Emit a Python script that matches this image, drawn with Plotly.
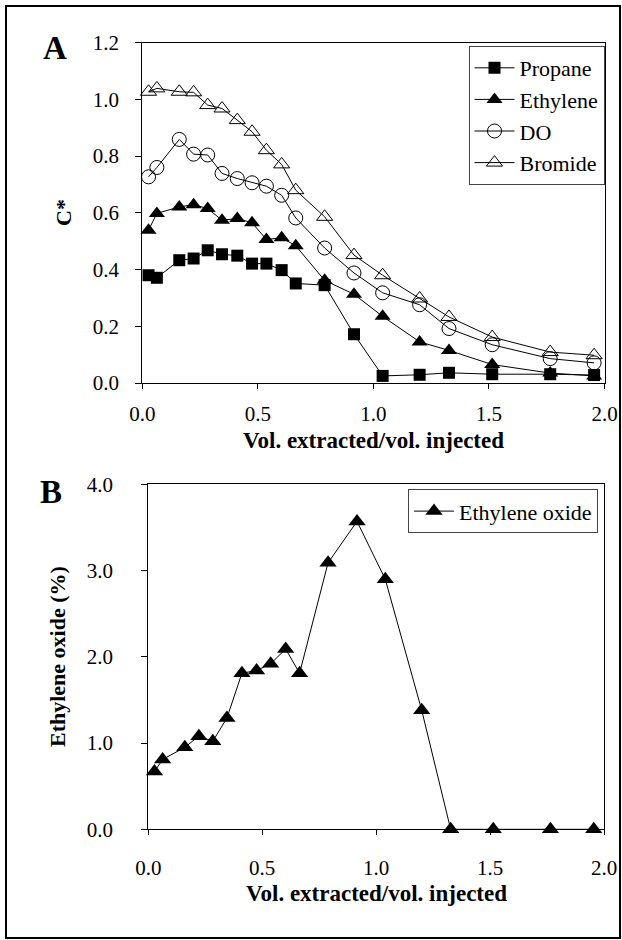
import plotly.graph_objects as go

# ---------------- data ----------------
vol_ratio = [0.027, 0.063, 0.160, 0.222, 0.283, 0.345, 0.411, 0.475, 0.537, 0.603,
             0.664, 0.789, 0.916, 1.040, 1.200, 1.327, 1.514, 1.765, 1.955]
propane = [0.380, 0.371, 0.433, 0.439, 0.468, 0.454, 0.449, 0.421, 0.421, 0.398,
           0.351, 0.345, 0.172, 0.025, 0.029, 0.036, 0.031, 0.031, 0.028]
ethylene = [0.539, 0.598, 0.621, 0.629, 0.615, 0.574, 0.580, 0.565, 0.506, 0.512,
            0.484, 0.362, 0.313, 0.235, 0.145, 0.115, 0.065, 0.035, 0.025]
dissolved_oxygen = [0.727, 0.760, 0.859, 0.807, 0.804, 0.739, 0.721, 0.706, 0.694, 0.662,
                    0.582, 0.476, 0.388, 0.318, 0.276, 0.192, 0.135, 0.086, 0.071]
bromide = [1.027, 1.039, 1.027, 1.025, 0.980, 0.968, 0.927, 0.886, 0.821, 0.771,
           0.680, 0.586, 0.451, 0.380, 0.298, 0.233, 0.162, 0.109, 0.098]
ethylene_oxide = [0.67, 0.81, 0.95, 1.08, 1.02, 1.29, 1.81, 1.84, 1.92, 2.09,
                  1.81, 3.09, 3.57, 2.90, 1.38, 0.0, 0.0, 0.0, 0.0]

x_ticks = [0.0, 0.5, 1.0, 1.5, 2.0]
x_ticktext = ["0.0", "0.5", "1.0", "1.5", "2.0"]
cstar_ticks = [0.0, 0.2, 0.4, 0.6, 0.8, 1.0, 1.2]
cstar_ticktext = ["0.0", "0.2", "0.4", "0.6", "0.8", "1.0", "1.2"]
eo_ticks = [0.0, 1.0, 2.0, 3.0, 4.0]
eo_ticktext = ["0.0", "1.0", "2.0", "3.0", "4.0"]

# ---------------- layout geometry (pixels) ----------------
W, H = 622, 940
FONT = "Liberation Serif"

def px_x(v):
    return v / W

def px_y(v):
    return 1 - v / H

fig = go.Figure()

line = dict(color="black", width=1)

fig.add_trace(go.Scatter(x=vol_ratio, y=propane, name="Propane", mode="lines+markers",
                         line=line, marker=dict(symbol="square", size=12, color="black"),
                         xaxis="x", yaxis="y", legend="legend", cliponaxis=False))
fig.add_trace(go.Scatter(x=vol_ratio, y=ethylene, name="Ethylene", mode="lines+markers",
                         line=line, marker=dict(symbol="triangle-up", size=14, color="black"),
                         xaxis="x", yaxis="y", legend="legend", cliponaxis=False))
fig.add_trace(go.Scatter(x=vol_ratio, y=dissolved_oxygen, name="DO", mode="lines+markers",
                         line=line,
                         marker=dict(symbol="circle-open", size=14, color="black",
                                     line=dict(width=1, color="black")),
                         xaxis="x", yaxis="y", legend="legend", cliponaxis=False))
fig.add_trace(go.Scatter(x=vol_ratio, y=bromide, name="Bromide", mode="lines+markers",
                         line=line,
                         marker=dict(symbol="triangle-up-open", size=14, color="black",
                                     line=dict(width=1, color="black")),
                         xaxis="x", yaxis="y", legend="legend", cliponaxis=False))
fig.add_trace(go.Scatter(x=vol_ratio, y=ethylene_oxide, name="Ethylene oxide",
                         mode="lines+markers", line=line,
                         marker=dict(symbol="triangle-up", size=15, color="black"),
                         xaxis="x2", yaxis="y2", legend="legend2", cliponaxis=False))

tickfont = dict(family=FONT, size=21, color="black")
common_axis = dict(showgrid=False, zeroline=False, showline=True, linecolor="black",
                   linewidth=1, mirror=True, ticks="outside", tickcolor="black",
                   tickwidth=1, tickfont=tickfont, fixedrange=True, automargin=False)

fig.update_layout(
    width=W, height=H,
    margin=dict(l=0, r=0, t=0, b=0, pad=0),
    paper_bgcolor="white", plot_bgcolor="white",
    font=dict(family=FONT, color="black"),
    xaxis=dict(domain=[px_x(142.3), px_x(604.5)], range=[0, 2], tickvals=x_ticks,
               ticktext=x_ticktext, anchor="y", ticklen=5, ticklabelstandoff=7,
               **common_axis),
    yaxis=dict(domain=[px_y(383), px_y(42.7)], range=[0, 1.2], tickvals=cstar_ticks,
               ticktext=cstar_ticktext, anchor="x", ticklen=6, ticklabelstandoff=12,
               **common_axis),
    xaxis2=dict(domain=[px_x(148.3), px_x(604)], range=[0, 2], tickvals=x_ticks,
                ticktext=x_ticktext, anchor="y2", ticklen=5, ticklabelstandoff=14,
                **common_axis),
    yaxis2=dict(domain=[px_y(829.3), px_y(484.3)], range=[0, 4], tickvals=eo_ticks,
                ticktext=eo_ticktext, anchor="x2", ticklen=6, ticklabelstandoff=24,
                **common_axis),
    legend=dict(x=px_x(604.5), xanchor="right", y=px_y(46), yanchor="top",
                bgcolor="white", bordercolor="#444", borderwidth=1, itemwidth=40,
                font=dict(family=FONT, size=22, color="black"), tracegroupgap=0),
    legend2=dict(x=px_x(598), xanchor="right", y=px_y(489.3), yanchor="top",
                 bgcolor="white", bordercolor="#444", borderwidth=1, itemwidth=40,
                 font=dict(family=FONT, size=22, color="black")),
    showlegend=True,
)

annotations = [
    dict(text="<b>A</b>", x=px_x(54.7), y=px_y(48.3), font=dict(size=33)),
    dict(text="<b>B</b>", x=px_x(50.7), y=px_y(491.7), font=dict(size=33)),
    dict(text="<b>Vol. extracted/vol. injected</b>", x=px_x(373.4), y=px_y(440),
         font=dict(size=23)),
    dict(text="<b>Vol. extracted/vol. injected</b>", x=px_x(376), y=px_y(893),
         font=dict(size=23)),
    dict(text="<b>C*</b>", x=px_x(63), y=px_y(213), font=dict(size=22), textangle=-90),
    dict(text="<b>Ethylene oxide (%)</b>", x=px_x(57), y=px_y(657), font=dict(size=22),
         textangle=-90),
]
for a in annotations:
    a.update(xref="paper", yref="paper", showarrow=False, xanchor="center",
             yanchor="middle")
    a["font"].update(family=FONT, color="black")
fig.update_layout(annotations=annotations)

# outer frame
fig.add_shape(type="rect", xref="paper", yref="paper",
              x0=px_x(6), x1=px_x(620), y0=px_y(938), y1=px_y(6),
              line=dict(color="black", width=2), fillcolor="rgba(0,0,0,0)")

fig.write_html("out.html",
               config={"displayModeBar": False},
               post_script="document.body.style.margin='0';"
                           "document.body.style.padding='0';"
                           "document.body.style.overflow='hidden';")
